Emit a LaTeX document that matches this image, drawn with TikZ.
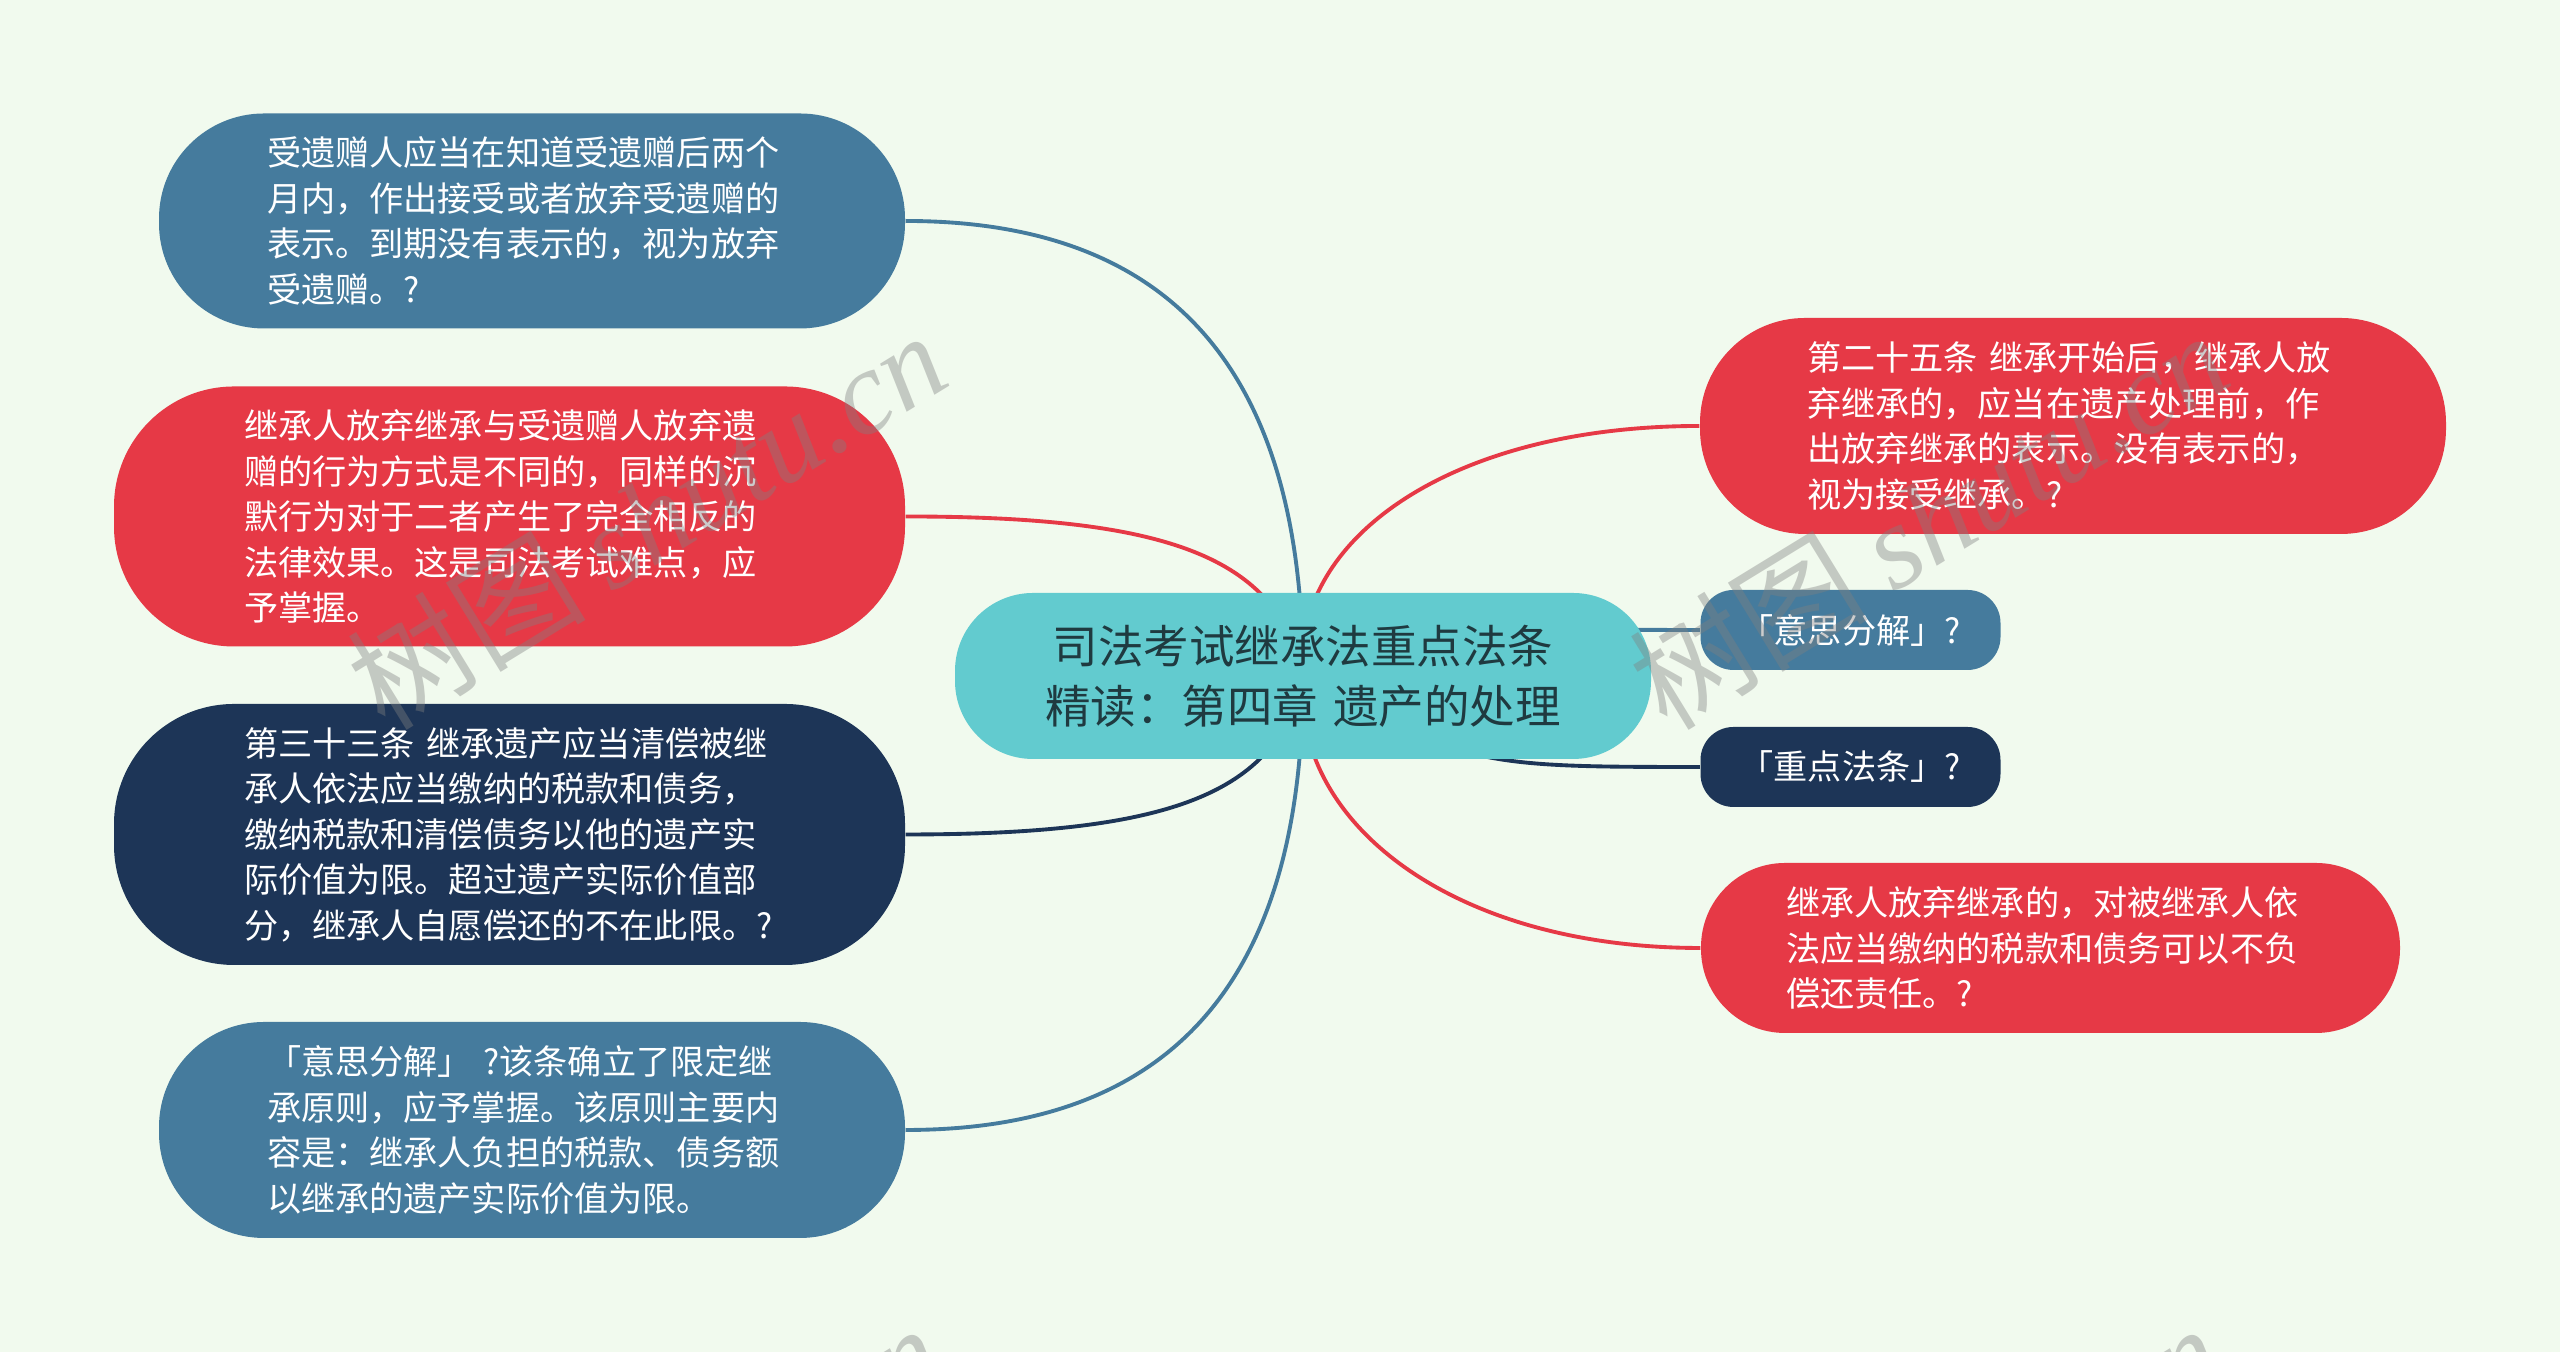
\documentclass[tikz,border=0pt]{standalone}
\usepackage{fontspec}
\setmainfont{Noto Sans CJK SC}
\newfontfamily\markcjk[AutoFakeSlant=0.2]{Noto Sans CJK SC}
\newfontfamily\marklatin{Liberation Serif}
\usetikzlibrary{backgrounds}
\definecolor{pagebg}{HTML}{F1FAEE}
\definecolor{rootfill}{HTML}{62CBCF}
\definecolor{roottext}{HTML}{1F3A40}
\definecolor{leafblue}{HTML}{457B9D}
\definecolor{leafred}{HTML}{E63946}
\definecolor{leafnavy}{HTML}{1D3557}
\tikzset{
	rootnode/.style={fill=rootfill,text=roottext,rounded corners=0.78cm,inner sep=0pt,minimum height=1.66cm,text width=6.96cm,align=center,font=\fontsize{12.95pt}{17.1pt}\selectfont},
	leafnode/.style={text=white,inner ysep=0pt,align=left,font=\fontsize{9.72pt}{12.95pt}\selectfont},
	wmark/.style={text=gray,text opacity=0.4,rotate=31.5,font=\fontsize{34pt}{34pt}\selectfont,inner sep=0pt},
	link/.style={line width=1.1pt}
}
\begin{document}
\begin{tikzpicture}[>=latex]
	\useasboundingbox (0,0) rectangle (25.6,13.52);
	\begin{scope}[on background layer]
		\fill[pagebg] (0,0) rectangle (25.6,13.52);
	\end{scope}

	% Draw the central topic
	\node[rootnode] (root) at (13.03,6.76) {司法考试继承法重点法条\\精读：第四章 遗产的处理};

	% Draw the left branches
	\node[leafnode,fill=leafblue,rounded corners=1.05cm,minimum height=2.15cm,inner xsep=1.08cm,text width=5.3cm] (accept) at (5.32,11.31) {受遗赠人应当在知道受遗赠后两个\\月内，作出接受或者放弃受遗赠的\\表示。到期没有表示的，视为放弃\\受遗赠。?};
	\node[leafnode,fill=leafred,rounded corners=1.2cm,minimum height=2.6cm,inner xsep=1.3cm,text width=5.31cm] (differ) at (5.095,8.355) {继承人放弃继承与受遗赠人放弃遗\\赠的行为方式是不同的，同样的沉\\默行为对于二者产生了完全相反的\\法律效果。这是司法考试难点，应\\予掌握。};
	\node[leafnode,fill=leafnavy,rounded corners=1.2cm,minimum height=2.61cm,inner xsep=1.3cm,text width=5.31cm] (art33) at (5.095,5.175) {第三十三条 继承遗产应当清偿被继\\承人依法应当缴纳的税款和债务，\\缴纳税款和清偿债务以他的遗产实\\际价值为限。超过遗产实际价值部\\分，继承人自愿偿还的不在此限。?};
	\node[leafnode,fill=leafblue,rounded corners=1.05cm,minimum height=2.16cm,inner xsep=1.08cm,text width=5.3cm] (limit) at (5.32,2.22) {「意思分解」 ?该条确立了限定继\\承原则，应予掌握。该原则主要内\\容是：继承人负担的税款、债务额\\以继承的遗产实际价值为限。};

	% Draw the right branches
	\node[leafnode,fill=leafred,rounded corners=1.05cm,minimum height=2.16cm,inner xsep=1.07cm,text width=5.32cm] (art25) at (20.73,9.26) {第二十五条 继承开始后，继承人放\\弃继承的，应当在遗产处理前，作\\出放弃继承的表示。没有表示的，\\视为接受继承。?};
	\node[leafnode,fill=leafblue,rounded corners=0.33cm,minimum height=0.8cm,inner xsep=0.39cm,text width=2.22cm] (meaning) at (18.505,7.22) {「意思分解」?};
	\node[leafnode,fill=leafnavy,rounded corners=0.33cm,minimum height=0.8cm,inner xsep=0.39cm,text width=2.22cm] (statute) at (18.505,5.85) {「重点法条」?};
	\node[leafnode,fill=leafred,rounded corners=0.84cm,minimum height=1.7cm,inner xsep=0.85cm,text width=5.29cm] (waive) at (20.505,4.04) {继承人放弃继承的，对被继承人依\\法应当缴纳的税款和债务可以不负\\偿还责任。?};

	% Draw the connectors behind the nodes
	\begin{scope}[on background layer]
		\draw[link,leafblue] (accept.east) .. controls +(2.75,0) and +(0,2.95) .. (root.center);
		\draw[link,leafred] (differ.east) .. controls +(2.6,0) and +(-0.25,1.2) .. (root.center);
		\draw[link,leafnavy] (art33.east) .. controls +(2.6,0) and +(-0.25,-1.2) .. (root.center);
		\draw[link,leafblue] (limit.east) .. controls +(2.75,0) and +(0,-2.95) .. (root.center);
		\draw[link,leafred] (art25.west) .. controls +(-2.5,0) and +(-0.12,1.36) .. (root.center);
		\draw[link,leafblue] (meaning.west) .. controls +(-1.5,0) and +(1.5,0.5) .. (root.center);
		\draw[link,leafnavy] (statute.west) .. controls +(-2.2,0) and +(1.6,-0.9) .. (root.center);
		\draw[link,leafred] (waive.west) .. controls +(-2.5,0) and +(-0.12,-1.45) .. (root.center);
	\end{scope}

	% Draw the repeated marks over everything
	\foreach \i/\px/\py in {a/6.46/8.33,b/19.28/8.33,c/6.42/-1.6,d/19.22/-1.6}
		\node[wmark] (mark\i) at (\px,\py) {{\markcjk 树图} {\marklatin\itshape shutu.cn}};
\end{tikzpicture}
\end{document}
